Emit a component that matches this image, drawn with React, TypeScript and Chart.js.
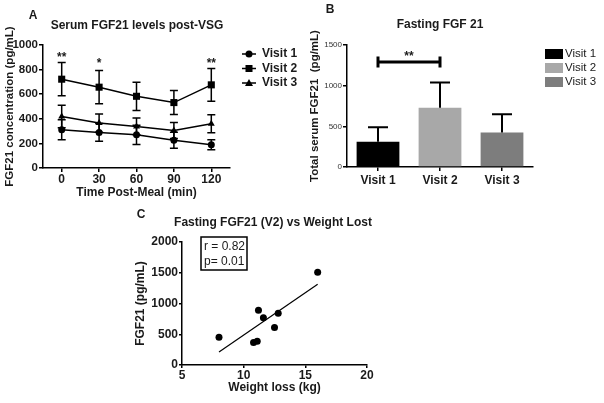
import React, { useEffect, useRef } from 'react';
import { Chart, registerables } from 'chart.js';

Chart.register(...registerables);
Chart.defaults.font.family = "'Liberation Sans', Arial, sans-serif";
Chart.defaults.color = '#1a1a1a';

// ---------- Panel A data ----------
const timePoints = [0, 30, 60, 90, 120];
const visitLabels = ['Visit 1', 'Visit 2', 'Visit 3'];
const visit1Mean = [311, 289, 270, 226, 189];
const visit1Err = [81, 72, 78, 65, 40];
const visit2Mean = [722, 657, 583, 532, 676];
const visit2Err = [135, 135, 115, 98, 133];
const visit3Mean = [419, 365, 338, 305, 359];
const visit3Err = [92, 75, 68, 65, 73];
const concTicks = [0, 200, 400, 600, 800, 1000];
const starTimes = [0, 30, 120];
const starLabels = ['**', '*', '**'];
const starLevels = [925, 870, 875];

// ---------- Panel B data ----------
const fastingCategories = ['Visit 1', 'Visit 2', 'Visit 3'];
const fastingMean = [310, 730, 425];
const fastingErr = [180, 310, 225];
const fastingColors = ['#000000', '#a8a8a8', '#7d7d7d'];
const fastingTicks = [0, 500, 1000, 1500];
const sigLevel = 1290;
const sigStarLevel = 1390;
const sigLabel = '**';

// ---------- Panel C data ----------
const weightLoss = [8, 10.8, 11.1, 11.2, 11.6, 12.5, 12.8, 16];
const fgf21V2 = [450, 365, 385, 890, 770, 610, 840, 1510];
const statsText = ['r = 0.82', 'p= 0.01'];
const weightTicks = [5, 10, 15, 20];
const fgfTicks = [0, 500, 1000, 1500, 2000];

const BOLD12 = { size: 12, weight: 'bold' as const };
const TEXT = '#1a1a1a';
const plain = (v: any) => String(v);

function fit(xs: number[], ys: number[]) {
  const n = xs.length;
  const mx = xs.reduce((a, b) => a + b, 0) / n;
  const my = ys.reduce((a, b) => a + b, 0) / n;
  let sxy = 0, sxx = 0;
  for (let i = 0; i < n; i++) { sxy += (xs[i] - mx) * (ys[i] - my); sxx += (xs[i] - mx) ** 2; }
  const slope = sxy / sxx;
  const x0 = Math.min(...xs), x1 = Math.max(...xs);
  return [{ x: x0, y: my + slope * (x0 - mx) }, { x: x1, y: my + slope * (x1 - mx) }];
}

const errorBarPlugin = {
  id: 'errorBars',
  afterDatasetsDraw(chart: any) {
    const ctx = chart.ctx;
    chart.data.datasets.forEach((ds: any, di: number) => {
      if (!ds.errors) return;
      const meta = chart.getDatasetMeta(di);
      const yScale = chart.scales[meta.yAxisID];
      ctx.save();
      ctx.strokeStyle = '#000';
      ctx.lineWidth = ds.errorLineWidth || 1.5;
      meta.data.forEach((el: any, i: number) => {
        const raw = ds.data[i];
        const v = typeof raw === 'number' ? raw : raw.y;
        const e = ds.errors[i];
        const x = el.x;
        const yTop = yScale.getPixelForValue(v + e);
        const yBot = yScale.getPixelForValue(ds.errorUpOnly ? v : v - e);
        const cap = ds.errorCap || 4;
        ctx.beginPath();
        ctx.moveTo(x, yTop); ctx.lineTo(x, yBot);
        ctx.moveTo(x - cap, yTop); ctx.lineTo(x + cap, yTop);
        if (!ds.errorUpOnly) { ctx.moveTo(x - cap, yBot); ctx.lineTo(x + cap, yBot); }
        ctx.stroke();
      });
      ctx.restore();
    });
  },
};

const textPlugin = {
  id: 'freeTexts',
  afterDraw(chart: any, _a: any, opts: any) {
    const ctx = chart.ctx;
    (opts.items || []).forEach((t: any) => {
      ctx.save();
      ctx.font = `${t.weight || 'bold'} ${t.size || 12}px 'Liberation Sans', Arial, sans-serif`;
      ctx.fillStyle = t.color || TEXT;
      ctx.textAlign = t.align || 'center';
      ctx.textBaseline = 'middle';
      ctx.fillText(t.text, t.x, t.y);
      ctx.restore();
    });
  },
};

function drawMarker(ctx: CanvasRenderingContext2D, style: string, x: number, y: number) {
  ctx.beginPath();
  if (style === 'circle') { ctx.arc(x, y, 3.5, 0, Math.PI * 2); ctx.fill(); }
  else if (style === 'rect') { ctx.fillRect(x - 3.5, y - 3.5, 7, 7); }
  else { ctx.moveTo(x, y - 4); ctx.lineTo(x + 4, y + 3); ctx.lineTo(x - 4, y + 3); ctx.closePath(); ctx.fill(); }
}

const lineLegendPlugin = {
  id: 'lineLegend',
  afterDraw(chart: any, _a: any, opts: any) {
    const ctx = chart.ctx;
    const rows = opts.rows || [];
    chart.data.datasets.forEach((ds: any, i: number) => {
      const y = rows[i];
      ctx.save();
      ctx.strokeStyle = '#000'; ctx.fillStyle = '#000'; ctx.lineWidth = 1.5;
      ctx.beginPath(); ctx.moveTo(opts.x0, y); ctx.lineTo(opts.x1, y); ctx.stroke();
      drawMarker(ctx, ds.pointStyle, (opts.x0 + opts.x1) / 2, y);
      ctx.font = "bold 12px 'Liberation Sans', Arial, sans-serif";
      ctx.fillStyle = TEXT; ctx.textBaseline = 'middle'; ctx.textAlign = 'left';
      ctx.fillText(ds.label, opts.tx, y);
      ctx.restore();
    });
  },
};

const starsPlugin = {
  id: 'stars',
  afterDraw(chart: any) {
    const ctx = chart.ctx;
    const xs = chart.scales.x, ys = chart.scales.y;
    ctx.save();
    ctx.font = "bold 12px 'Liberation Sans', Arial, sans-serif";
    ctx.fillStyle = TEXT; ctx.textAlign = 'center'; ctx.textBaseline = 'middle';
    starTimes.forEach((t, i) => {
      ctx.fillText(starLabels[i], xs.getPixelForValue(t), ys.getPixelForValue(starLevels[i]) + 3);
    });
    ctx.restore();
  },
};

const barLegendPlugin = {
  id: 'barLegend',
  afterDraw(chart: any, _a: any, opts: any) {
    const ctx = chart.ctx;
    const ds = chart.data.datasets[0];
    chart.data.labels.forEach((lab: string, i: number) => {
      const y = opts.rows[i];
      ctx.save();
      ctx.fillStyle = ds.backgroundColor[i];
      ctx.fillRect(opts.x0, y - 5, 18, 10);
      ctx.font = "11.5px 'Liberation Sans', Arial, sans-serif";
      ctx.fillStyle = TEXT; ctx.textBaseline = 'middle'; ctx.textAlign = 'left';
      ctx.fillText(lab, opts.tx, y);
      ctx.restore();
    });
  },
};

const sigPlugin = {
  id: 'sigBracket',
  afterDraw(chart: any) {
    const ctx = chart.ctx;
    const xs = chart.scales.x, ys = chart.scales.y;
    const x0 = xs.getPixelForValue(0), x1 = xs.getPixelForValue(1);
    const y = ys.getPixelForValue(sigLevel);
    ctx.save();
    ctx.strokeStyle = '#000'; ctx.lineWidth = 3;
    ctx.beginPath();
    ctx.moveTo(x0, y); ctx.lineTo(x1, y);
    ctx.moveTo(x0, y - 5.5); ctx.lineTo(x0, y + 5.5);
    ctx.moveTo(x1, y - 5.5); ctx.lineTo(x1, y + 5.5);
    ctx.stroke();
    ctx.font = "bold 12px 'Liberation Sans', Arial, sans-serif";
    ctx.fillStyle = TEXT; ctx.textAlign = 'center'; ctx.textBaseline = 'middle';
    ctx.fillText(sigLabel, (x0 + x1) / 2, ys.getPixelForValue(sigStarLevel) + 3);
    ctx.restore();
  },
};

const statsBoxPlugin = {
  id: 'statsBox',
  afterDraw(chart: any, _a: any, opts: any) {
    const ctx = chart.ctx;
    ctx.save();
    ctx.strokeStyle = '#000'; ctx.lineWidth = 1.5;
    ctx.strokeRect(opts.left, opts.top, opts.width, opts.height);
    ctx.font = "12px 'Liberation Sans', Arial, sans-serif";
    ctx.fillStyle = TEXT; ctx.textAlign = 'left'; ctx.textBaseline = 'middle';
    statsText.forEach((s, i) => ctx.fillText(s, opts.left + 3, opts.top + 10 + i * 15));
    ctx.restore();
  },
};

const axisCommon = (extra: any = {}) => ({
  border: { display: true, color: '#000', width: 1.5 },
  grid: { display: true, drawOnChartArea: false, color: '#000', lineWidth: 1.5, tickLength: 4, ...(extra.grid || {}) },
});

export default function App() {
  const refA = useRef<HTMLCanvasElement>(null);
  const refB = useRef<HTMLCanvasElement>(null);
  const refC = useRef<HTMLCanvasElement>(null);

  useEffect(() => {
    const mk = (xs: number[], ys: number[]) => xs.map((x, i) => ({ x, y: ys[i] }));
    const lineDs = (label: string, ys: number[], errs: number[], style: string, r: number) => ({
      label, data: mk(timePoints, ys), errors: errs, errorCap: 4,
      borderColor: '#000', backgroundColor: '#000', borderWidth: 1.5,
      pointStyle: style, pointRadius: r, pointBackgroundColor: '#000', pointBorderColor: '#000', pointBorderWidth: 0,
    });

    const chartA = new Chart(refA.current as HTMLCanvasElement, {
      type: 'line',
      data: {
        datasets: [
          lineDs(visitLabels[0], visit1Mean, visit1Err, 'circle', 3.5),
          lineDs(visitLabels[1], visit2Mean, visit2Err, 'rect', 5),
          lineDs(visitLabels[2], visit3Mean, visit3Err, 'triangle', 4),
        ] as any,
      },
      options: {
        responsive: false, animation: false, devicePixelRatio: 1,
        layout: { padding: { top: 45, right: 80, left: 0, bottom: 0 } },
        plugins: {
          legend: { display: false }, tooltip: { enabled: false }, title: { display: false },
          lineLegend: { x0: 242, x1: 256, tx: 262, rows: [54, 68.5, 83] },
          freeTexts: { items: [
            { text: 'A', x: 33, y: 16, size: 12 },
            { text: 'Serum FGF21 levels post-VSG', x: 137, y: 26, size: 12 },
          ] },
        } as any,
        scales: {
          x: {
            type: 'linear', min: -15, max: 135,
            afterBuildTicks: (s: any) => { s.ticks = timePoints.map((v) => ({ value: v })); },
            afterFit: (s: any) => { s.height = 42; },
            ticks: { font: BOLD12, color: TEXT, padding: 0, maxRotation: 0, callback: plain },
            title: { display: true, text: 'Time Post-Meal (min)', font: BOLD12, color: TEXT, padding: { top: 0, bottom: 10 } },
            ...axisCommon(),
          },
          y: {
            min: 0, max: 1000,
            afterBuildTicks: (s: any) => { s.ticks = concTicks.map((v) => ({ value: v })); },
            afterFit: (s: any) => { s.width = 43; },
            ticks: { font: { size: 11.5, weight: 'bold' }, color: TEXT, padding: 1, callback: plain },
            title: { display: true, text: 'FGF21 concentration (pg/mL)', font: { size: 11.5, weight: 'bold' }, color: TEXT, padding: { top: 3, bottom: 0 } },
            ...axisCommon(),
          },
        } as any,
      },
      plugins: [errorBarPlugin, lineLegendPlugin, textPlugin, starsPlugin],
    });

    const chartB = new Chart(refB.current as HTMLCanvasElement, {
      type: 'bar',
      data: {
        labels: fastingCategories,
        datasets: [{
          label: 'Fasting FGF 21', data: fastingMean, errors: fastingErr, errorUpOnly: true, errorCap: 10, errorLineWidth: 2,
          backgroundColor: fastingColors, borderWidth: 0, barPercentage: 0.69, categoryPercentage: 1,
        } as any],
      },
      options: {
        responsive: false, animation: false, devicePixelRatio: 1,
        layout: { padding: { top: 45, right: 71, left: 0, bottom: 0 } },
        plugins: {
          legend: { display: false }, tooltip: { enabled: false },
          barLegend: { x0: 245, tx: 265, rows: [54, 68, 82] },
          freeTexts: { items: [
            { text: 'B', x: 30, y: 10, size: 12 },
            { text: 'Fasting FGF 21', x: 140, y: 25, size: 12 },
          ] },
        } as any,
        scales: {
          x: {
            afterFit: (s: any) => { s.height = 43; },
            ticks: { font: BOLD12, color: TEXT, padding: 2 },
            ...axisCommon({ grid: { offset: false } }),
          },
          y: {
            min: 0, max: 1500,
            afterBuildTicks: (s: any) => { s.ticks = fastingTicks.map((v) => ({ value: v })); },
            afterFit: (s: any) => { s.width = 47; },
            ticks: { font: { size: 8 }, color: '#333', padding: 1, callback: plain },
            title: { display: true, text: 'Total serum FGF21  (pg/mL)', font: { size: 11.5, weight: 'bold' }, color: TEXT, padding: { top: 8, bottom: 0 } },
            ...axisCommon(),
          },
        } as any,
      },
      plugins: [errorBarPlugin, barLegendPlugin, sigPlugin, textPlugin],
    });

    const chartC = new Chart(refC.current as HTMLCanvasElement, {
      type: 'scatter',
      data: {
        datasets: [
          { label: 'points', data: mk(weightLoss, fgf21V2), pointRadius: 3.5, pointBackgroundColor: '#000', pointBorderWidth: 0, backgroundColor: '#000' },
          { type: 'line', label: 'fit', data: fit(weightLoss, fgf21V2), borderColor: '#000', borderWidth: 1.2, pointRadius: 0, showLine: true } as any,
        ],
      },
      options: {
        responsive: false, animation: false, devicePixelRatio: 1,
        layout: { padding: { top: 42, right: 23, left: 0, bottom: 0 } },
        plugins: {
          legend: { display: false }, tooltip: { enabled: false },
          statsBox: { left: 71, top: 37, width: 46, height: 33 },
          freeTexts: { items: [
            { text: 'C', x: 11, y: 15, size: 12 },
            { text: 'Fasting FGF21 (V2) vs Weight Lost', x: 143, y: 23, size: 12 },
          ] },
        } as any,
        scales: {
          x: {
            type: 'linear', min: 5, max: 20,
            afterBuildTicks: (s: any) => { s.ticks = weightTicks.map((v) => ({ value: v })); },
            afterFit: (s: any) => { s.height = 38; },
            ticks: { font: BOLD12, color: TEXT, padding: 0, callback: plain },
            title: { display: true, text: 'Weight loss (kg)', font: BOLD12, color: TEXT, padding: { top: 0, bottom: 8 } },
            ...axisCommon({ grid: { tickLength: 3 } }),
          },
          y: {
            min: 0, max: 2000,
            afterBuildTicks: (s: any) => { s.ticks = fgfTicks.map((v) => ({ value: v })); },
            afterFit: (s: any) => { s.width = 52; },
            ticks: { font: BOLD12, color: TEXT, padding: 1, callback: plain },
            title: { display: true, text: 'FGF21 (pg/mL)', font: BOLD12, color: TEXT, padding: { top: 3, bottom: 0 } },
            ...axisCommon({ grid: { tickLength: 3 } }),
          },
        } as any,
      },
      plugins: [statsBoxPlugin, textPlugin],
    });

    return () => { chartA.destroy(); chartB.destroy(); chartC.destroy(); };
  }, []);

  const abs = (l: number, t: number, w: number, h: number): React.CSSProperties => ({ position: 'absolute', left: l, top: t, width: w, height: h });
  return (
    <div style={{ position: 'absolute', left: 0, top: 0, width: 604, height: 403, background: '#fff', overflow: 'hidden' }}>
      <canvas ref={refA} width={310} height={210} style={abs(0, 0, 310, 210)} />
      <canvas ref={refB} width={304} height={210} style={abs(300, 0, 304, 210)} />
      <canvas ref={refC} width={260} height={203} style={abs(130, 200, 260, 203)} />
    </div>
  );
}
